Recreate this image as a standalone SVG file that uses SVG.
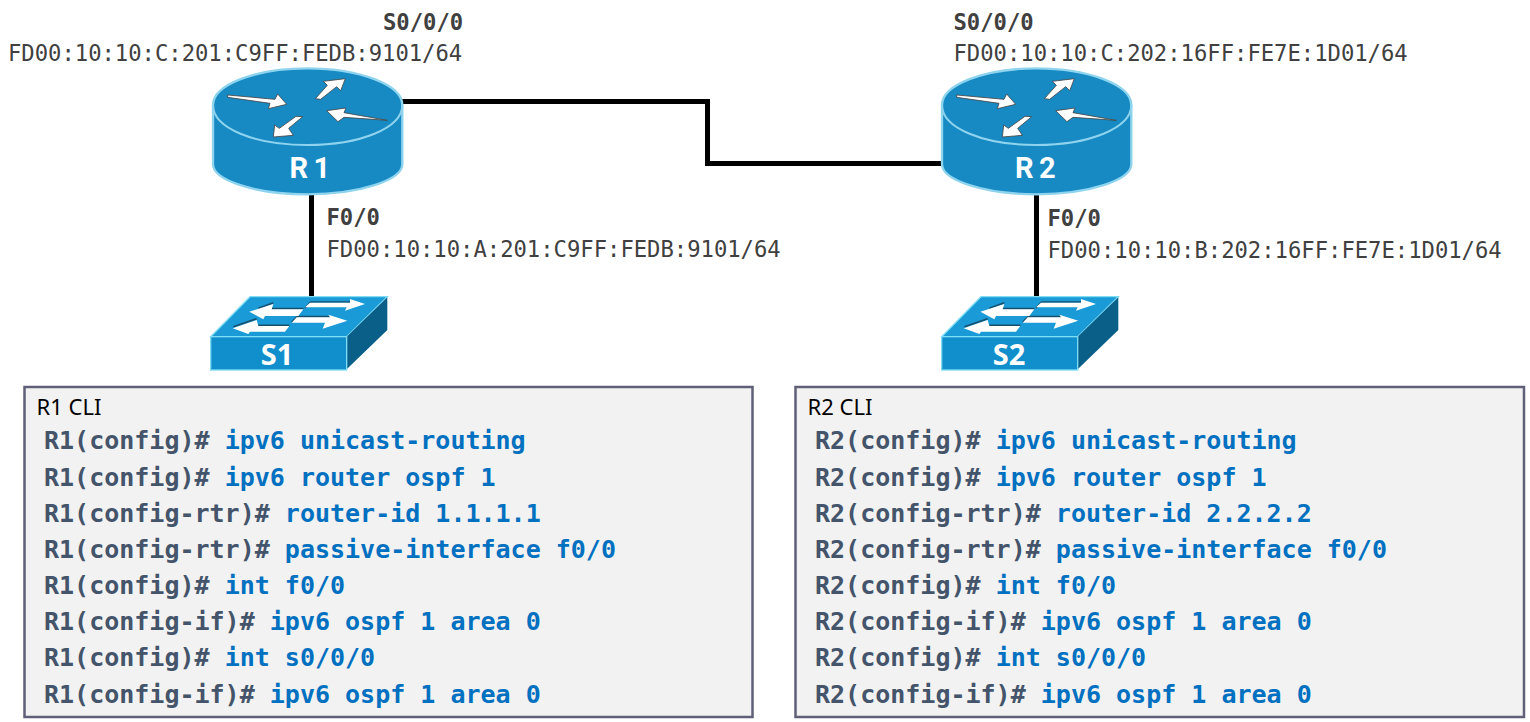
<svg xmlns="http://www.w3.org/2000/svg" width="1530" height="722" viewBox="0 0 1530 722">
<style>
.addr{font-family:"DejaVu Sans Mono",monospace;font-size:22.2px;fill:#404040}
.ifn{font-family:"DejaVu Sans Mono",monospace;font-size:22.2px;font-weight:bold;fill:#404040}
.title{font-family:"Noto Sans","Open Sans",sans-serif;font-size:22px;fill:#000}
.code{font-family:"DejaVu Sans Mono",monospace;font-size:25px;font-weight:bold;fill:#44546a}
.cmd{fill:#0070c0}
.lbl{font-family:"Open Sans","Noto Sans",sans-serif;font-weight:bold;fill:#fff}
.rl{font-family:Roboto,"Open Sans",sans-serif;font-weight:bold;fill:#fff;letter-spacing:5.5px}
.box{fill:#f2f2f2;stroke:#5f6078;stroke-width:2.5}
.wire{fill:none;stroke:#000;stroke-width:5}
.arr{fill:#fff;stroke:#444;stroke-width:2.5;stroke-linejoin:miter}
.sarr{fill:#fff;stroke:none}
.shd{fill:none;stroke:#17506e;stroke-width:5}
</style>
<defs>
<g id="router-shape" transform="scale(.33333)">
<path d="M69 135C69 75 195 25 352 25S637 75 637 135V313C637 360 510 403 352 403S69 360 69 313Z" fill="#178ac4" stroke="#8fd4ee" stroke-width="7"/>
<path d="M69 135C69 205 195 255 352 255S637 205 637 135" fill="none" stroke="#8fd4ee" stroke-width="6"/>
<path class="arr" d="M113 105L255 118L263 102L290 133L235 146L240 130L113 112Z"/>
<path class="arr" d="M376 116L412 76L400 64L466 56L452 92L440 80L392 118Z"/>
<path class="arr" d="M338 170L296 205L310 226L250 231L254 195L268 205L318 169Z"/>
<path class="arr" d="M592 181L462 172L444 185L410 152L468 144L462 158Z"/>
</g>
<g id="switch-shape" transform="scale(.33333)">
<path d="M62 170L180 50H592L470 170Z" fill="#1a9ad6" stroke="#7fdcf5" stroke-width="4"/>
<path d="M470 170L592 52V150L470 268Z" fill="#0a5f88"/>
<rect x="62" y="170" width="408" height="100" fill="#118fcd" stroke="#7fdcf5" stroke-width="4"/>
<path class="shd" d="M205 85L250 68M245 86H340M130 140L200 116M205 136H298M345 84L362 66H480M305 126L322 110H420"/>
<path class="sarr" d="M178 95L250 72L245 88H340L325 108H225L220 118Z"/>
<path class="sarr" d="M128 145L200 120L205 138H298L285 155H180L175 162Z"/>
<path class="sarr" d="M360 68H480L480 57L525 72L465 92L470 82H345Z"/>
<path class="sarr" d="M320 112H420L415 104L472 122L398 146L405 128H305Z"/>
</g>
</defs>
<g id="connectors">
<path class="wire" d="M400 101.5H707.5V163.5H945"/>
<path class="wire" d="M311.5 194V296"/>
<path class="wire" d="M1036.5 194V296"/>
</g>
<g id="R1">
<use href="#router-shape" transform="translate(190 60)"/>
<text class="rl" x="289.5" y="178" font-size="29">R1</text>
<text class="ifn" x="383" y="30">S0/0/0</text>
<text class="addr" x="8" y="61">FD00:10:10:C:201:C9FF:FEDB:9101/64</text>
<text class="ifn" x="326.5" y="225">F0/0</text>
<text class="addr" x="326.5" y="257">FD00:10:10:A:201:C9FF:FEDB:9101/64</text>
</g>
<g id="R2">
<use href="#router-shape" transform="translate(919 60)"/>
<text class="rl" x="1015" y="178" font-size="29">R2</text>
<text class="ifn" x="953.5" y="30">S0/0/0</text>
<text class="addr" x="953.5" y="61">FD00:10:10:C:202:16FF:FE7E:1D01/64</text>
<text class="ifn" x="1047.5" y="226">F0/0</text>
<text class="addr" x="1047.5" y="258">FD00:10:10:B:202:16FF:FE7E:1D01/64</text>
</g>
<g id="S1">
<use href="#switch-shape" transform="translate(190 280)"/>
<text class="lbl" x="277" y="365" font-size="29" text-anchor="middle">S1</text>
</g>
<g id="S2">
<use href="#switch-shape" transform="translate(921 280)"/>
<text class="lbl" x="1009" y="365" font-size="29" text-anchor="middle">S2</text>
</g>
<g id="R1-CLI">
<rect class="box" x="24.5" y="387" width="728" height="330"/>
<text class="title" x="36.5" y="415">R1 CLI</text>
<text class="code" x="44" y="449">R1(config)# <tspan class="cmd">ipv6 unicast-routing</tspan></text>
<text class="code" x="44" y="486">R1(config)# <tspan class="cmd">ipv6 router ospf 1</tspan></text>
<text class="code" x="44" y="522">R1(config-rtr)# <tspan class="cmd">router-id 1.1.1.1</tspan></text>
<text class="code" x="44" y="558">R1(config-rtr)# <tspan class="cmd">passive-interface f0/0</tspan></text>
<text class="code" x="44" y="594">R1(config)# <tspan class="cmd">int f0/0</tspan></text>
<text class="code" x="44" y="630">R1(config-if)# <tspan class="cmd">ipv6 ospf 1 area 0</tspan></text>
<text class="code" x="44" y="666">R1(config)# <tspan class="cmd">int s0/0/0</tspan></text>
<text class="code" x="44" y="703">R1(config-if)# <tspan class="cmd">ipv6 ospf 1 area 0</tspan></text>
</g>
<g id="R2-CLI">
<rect class="box" x="795.5" y="387" width="728.5" height="330"/>
<text class="title" x="807.5" y="415">R2 CLI</text>
<text class="code" x="815" y="449">R2(config)# <tspan class="cmd">ipv6 unicast-routing</tspan></text>
<text class="code" x="815" y="486">R2(config)# <tspan class="cmd">ipv6 router ospf 1</tspan></text>
<text class="code" x="815" y="522">R2(config-rtr)# <tspan class="cmd">router-id 2.2.2.2</tspan></text>
<text class="code" x="815" y="558">R2(config-rtr)# <tspan class="cmd">passive-interface f0/0</tspan></text>
<text class="code" x="815" y="594">R2(config)# <tspan class="cmd">int f0/0</tspan></text>
<text class="code" x="815" y="630">R2(config-if)# <tspan class="cmd">ipv6 ospf 1 area 0</tspan></text>
<text class="code" x="815" y="666">R2(config)# <tspan class="cmd">int s0/0/0</tspan></text>
<text class="code" x="815" y="703">R2(config-if)# <tspan class="cmd">ipv6 ospf 1 area 0</tspan></text>
</g>
</svg>
